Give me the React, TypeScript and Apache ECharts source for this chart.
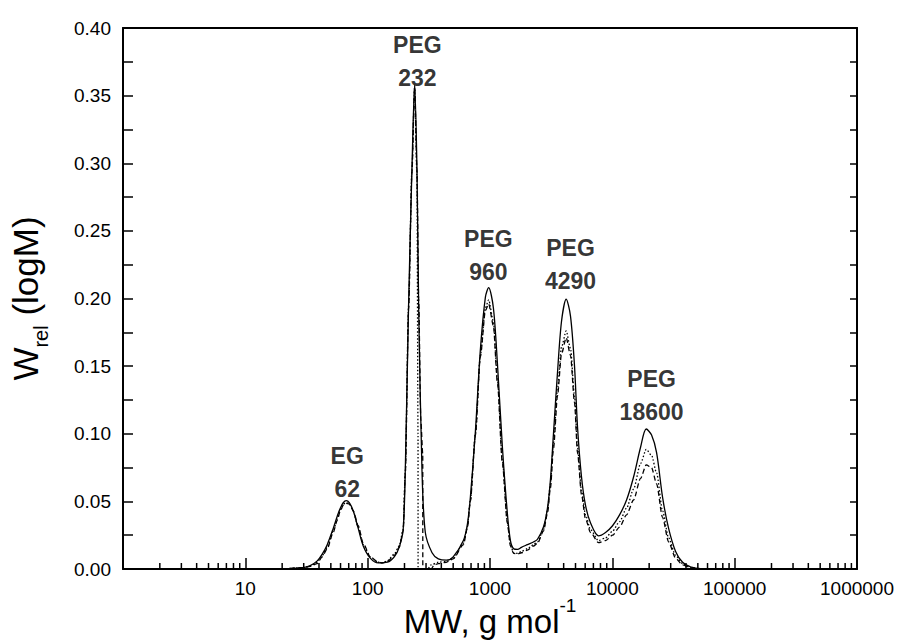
import React, { useEffect, useRef } from 'react';
import * as echarts from 'echarts';

// [MW (g/mol), W_rel(logM)]
const solidCurve: [number, number][] = [
  [20, 0], [29.7, 0.001], [33.9, 0.0025], [38.7, 0.006], [42.5, 0.011], [46.7, 0.018],
  [52.3, 0.03], [56.4, 0.039], [59.7, 0.045], [63.1, 0.049], [66.8, 0.0505], [70.7, 0.049],
  [76.2, 0.043], [83.7, 0.03], [92, 0.017], [105, 0.008], [122, 0.0045], [145, 0.005],
  [165, 0.009], [181, 0.016], [195, 0.029], [203, 0.073], [216, 0.195], [230, 0.295],
  [242, 0.358], [253, 0.295], [261, 0.195], [278, 0.073], [296, 0.027], [336, 0.012],
  [378, 0.0075], [440, 0.0065], [500, 0.009], [606, 0.021], [653, 0.033], [691, 0.053],
  [760, 0.102], [834, 0.162], [917, 0.201], [975, 0.208], [1066, 0.193], [1150, 0.152],
  [1263, 0.09], [1387, 0.041], [1469, 0.021], [1560, 0.015], [1680, 0.0145], [1806, 0.016], [2023, 0.018],
  [2265, 0.02], [2444, 0.022], [2735, 0.031], [2949, 0.045], [3119, 0.066], [3302, 0.1],
  [3561, 0.145], [3841, 0.183], [4196, 0.1995], [4550, 0.187], [4908, 0.15], [5193, 0.105],
  [5599, 0.068], [6038, 0.047], [6636, 0.034], [7713, 0.0245], [8799, 0.027], [10040, 0.032],
  [11460, 0.04], [13070, 0.051], [14910, 0.068], [17010, 0.09], [18930, 0.1035], [20930, 0.099],
  [23000, 0.086], [25750, 0.053], [28840, 0.03], [32900, 0.013], [37530, 0.005], [43630, 0.0015],
  [52710, 0.0003], [1000000, 0],
];

const dottedCurve: [number, number][] = [
  [20, 0], [29.7, 0.001], [33.9, 0.002], [38.7, 0.005], [42.5, 0.01], [46.7, 0.016],
  [52.3, 0.028], [56.4, 0.037], [59.7, 0.044], [63.1, 0.048], [66.8, 0.049], [70.7, 0.0485],
  [76.2, 0.043], [83.7, 0.031], [92, 0.018], [105, 0.009], [122, 0.005], [132, 0.0045],
  [145, 0.006], [165, 0.011], [181, 0.017], [195, 0.029], [203, 0.072], [216, 0.195],
  [230, 0.295], [242, 0.357], [253, 0.29], [258, 0.1], [258.3, 0], [310, 0], [330, 0.003],
  [378, 0.005], [440, 0.0055], [500, 0.008], [606, 0.019], [653, 0.031], [691, 0.051],
  [760, 0.1], [834, 0.158], [917, 0.193], [975, 0.199], [1066, 0.183], [1150, 0.14],
  [1263, 0.08], [1387, 0.035], [1469, 0.018], [1560, 0.012], [1680, 0.0115], [1806, 0.013], [2023, 0.015],
  [2265, 0.018], [2444, 0.02], [2735, 0.029], [2949, 0.043], [3119, 0.063], [3302, 0.093],
  [3561, 0.133], [3841, 0.164], [4196, 0.176], [4550, 0.163], [4908, 0.128], [5193, 0.09],
  [5599, 0.058], [6038, 0.04], [6636, 0.029], [7713, 0.021], [8799, 0.023], [10040, 0.028],
  [11460, 0.035], [13070, 0.045], [14910, 0.059], [17010, 0.078], [18930, 0.0885], [20930, 0.084],
  [23000, 0.071], [25750, 0.043], [28840, 0.023], [32900, 0.01], [37530, 0.004], [43630, 0.001],
  [52710, 0.0002], [1000000, 0],
];

const dashedCurve: [number, number][] = [
  [20, 0], [29.7, 0.001], [33.9, 0.002], [38.7, 0.004], [42.5, 0.009], [46.7, 0.015],
  [52.3, 0.027], [56.4, 0.036], [59.7, 0.043], [63.1, 0.047], [66.8, 0.0485], [70.7, 0.048],
  [76.2, 0.043], [83.7, 0.032], [92, 0.019], [105, 0.009], [122, 0.005], [132, 0.0045],
  [145, 0.0055], [165, 0.01], [181, 0.016], [195, 0.028], [203, 0.07], [216, 0.192],
  [230, 0.293], [242, 0.356], [253, 0.295], [261, 0.2], [272, 0.11], [282, 0.085], [282.3, 0],
  [330, 0], [350, 0.003], [378, 0.004], [440, 0.005], [500, 0.0075], [606, 0.018], [653, 0.03],
  [691, 0.05], [760, 0.099], [834, 0.157], [917, 0.191], [975, 0.196], [1066, 0.18],
  [1150, 0.138], [1263, 0.078], [1387, 0.034], [1469, 0.017], [1560, 0.0115], [1680, 0.011], [1806, 0.012],
  [2023, 0.014], [2265, 0.017], [2444, 0.019], [2735, 0.028], [2949, 0.041], [3119, 0.06],
  [3302, 0.089], [3561, 0.128], [3841, 0.159], [4196, 0.171], [4550, 0.158], [4908, 0.123],
  [5193, 0.086], [5599, 0.055], [6038, 0.037], [6636, 0.027], [7713, 0.0195], [8799, 0.021],
  [10040, 0.025], [11460, 0.031], [13070, 0.04], [14910, 0.051], [17010, 0.067], [18930, 0.077],
  [20930, 0.075], [23000, 0.063], [25750, 0.038], [28840, 0.02], [32900, 0.008], [37530, 0.003],
  [43630, 0.0008], [52710, 0.0001], [1000000, 0],
];

// peak annotations: [MW, W, label]
const peakLabels: [number, number, string][] = [
  [68, 0.0713, 'EG\n62'],
  [255, 0.375, 'PEG\n232'],
  [970, 0.2317, 'PEG\n960'],
  [4550, 0.225, 'PEG\n4290'],
  [20930, 0.1286, 'PEG\n18600'],
];

const xMin = 1;
const xMax = 1000000;
const yMin = 0;
const yMax = 0.4;
const yTickStep = 0.025;
const decades = [1, 10, 100, 1000, 10000, 100000];
const minorMultipliers = [2, 3, 4, 5, 6, 7, 8, 9];

export default function App() {
  const ref = useRef<HTMLDivElement>(null);

  useEffect(() => {
    if (!ref.current) return;
    const chart = echarts.init(ref.current, null, { renderer: 'svg' });
    const font = '"Liberation Sans", Arial, sans-serif';
    const minorTicks: number[][] = [];
    decades.forEach((d) => minorMultipliers.forEach((m) => minorTicks.push([d * m, 0])));

    chart.setOption({
      animation: false,
      backgroundColor: '#ffffff',
      grid: { left: 123, right: 42, top: 28, bottom: 72, containLabel: false, outerBoundsMode: 'none' },
      xAxis: [
        {
          type: 'log',
          logBase: 10,
          min: xMin,
          max: xMax,
          position: 'bottom',
          axisLine: { show: true, onZero: false, lineStyle: { color: '#000', width: 2 } },
          axisTick: { show: true, inside: true, length: 11, lineStyle: { color: '#000', width: 1.5 } },
          minorTick: { show: false },
          splitLine: { show: false },
          minorSplitLine: { show: false },
          axisLabel: {
            color: '#000',
            fontSize: 19,
            fontFamily: font,
            margin: 10,
            formatter: (v: number) => (Math.round(v) === 1 ? '' : String(Math.round(v))),
          },
          name: 'MW, g mol{sup|-1}',
          nameLocation: 'middle',
          nameGap: 27,
          nameMoveOverlap: false,
          nameTextStyle: {
            color: '#000',
            fontSize: 33,
            fontFamily: font,
            lineHeight: 50,
            rich: {
              sup: { fontSize: 19, fontFamily: font, color: '#000', lineHeight: 20, verticalAlign: 'top' },
            },
          },
        },
        {
          type: 'log',
          logBase: 10,
          min: xMin,
          max: xMax,
          position: 'top',
          axisLine: { show: true, onZero: false, lineStyle: { color: '#000', width: 2 } },
          axisTick: { show: false },
          axisLabel: { show: false },
          splitLine: { show: false },
        },
      ],
      yAxis: [
        {
          type: 'value',
          min: yMin,
          max: yMax,
          interval: yTickStep,
          position: 'left',
          axisLine: { show: true, onZero: false, lineStyle: { color: '#000', width: 2 } },
          axisTick: { show: true, inside: true, length: 10, lineStyle: { color: '#000', width: 1.5 } },
          splitLine: { show: false },
          axisLabel: {
            color: '#000',
            fontSize: 19,
            fontFamily: font,
            margin: 12,
            formatter: (v: number) => (Math.round(v * 1000) % 50 === 0 ? v.toFixed(2) : ''),
          },
          name: 'W{sub|rel} (logM)',
          nameLocation: 'middle',
          nameRotate: 90,
          nameGap: 72,
          nameMoveOverlap: false,
          nameTextStyle: {
            color: '#000',
            fontSize: 35,
            fontFamily: font,
            lineHeight: 52,
            rich: {
              sub: { fontSize: 20, fontFamily: font, color: '#000', lineHeight: 20, verticalAlign: 'bottom' },
            },
          },
        },
        {
          type: 'value',
          min: yMin,
          max: yMax,
          interval: yTickStep,
          position: 'right',
          axisLine: { show: true, onZero: false, lineStyle: { color: '#000', width: 2 } },
          axisTick: { show: true, inside: true, length: 7, lineStyle: { color: '#000', width: 1.5 } },
          splitLine: { show: false },
          axisLabel: { show: false },
        },
      ],
      series: [
        {
          type: 'line',
          name: 'solid',
          data: solidCurve,
          showSymbol: false,
          symbol: 'none',
          smooth: 0.3,
          lineStyle: { color: '#000', width: 1.3, type: 'solid' },
          z: 5,
        },
        {
          type: 'line',
          name: 'dotted',
          data: dottedCurve,
          showSymbol: false,
          symbol: 'none',
          smooth: 0.25,
          smoothMonotone: 'x',
          lineStyle: { color: '#000', width: 1.3, type: [1.5, 2] },
          z: 4,
        },
        {
          type: 'line',
          name: 'dashed',
          data: dashedCurve,
          showSymbol: false,
          symbol: 'none',
          smooth: 0.25,
          smoothMonotone: 'x',
          lineStyle: { color: '#000', width: 1.3, type: [5, 3] },
          z: 4,
        },
        {
          type: 'custom',
          name: 'minorTicks',
          data: minorTicks,
          clip: false,
          silent: true,
          z: 10,
          renderItem: (params: any, api: any) => {
            const p = api.coord([api.value(0), api.value(1)]);
            return {
              type: 'line',
              shape: { x1: p[0], y1: p[1], x2: p[0], y2: p[1] - 6 },
              style: { stroke: '#000', lineWidth: 1.5 },
            };
          },
        },
        {
          type: 'scatter',
          name: 'labels',
          symbolSize: 0,
          silent: true,
          data: peakLabels.map((p) => ({ value: [p[0], p[1]], name: p[2] })),
          label: {
            show: true,
            position: 'inside',
            formatter: '{b}',
            color: '#000',
            fontSize: 23,
            fontWeight: 'bold',
            fontFamily: font,
            lineHeight: 33,
            align: 'center',
            verticalAlign: 'middle',
          },
          z: 20,
        },
      ],
    });

    return () => chart.dispose();
  }, []);

  return (
    <div
      ref={ref}
      style={{ position: 'fixed', left: 0, top: 0, width: 899, height: 641, background: '#fff' }}
    />
  );
}
